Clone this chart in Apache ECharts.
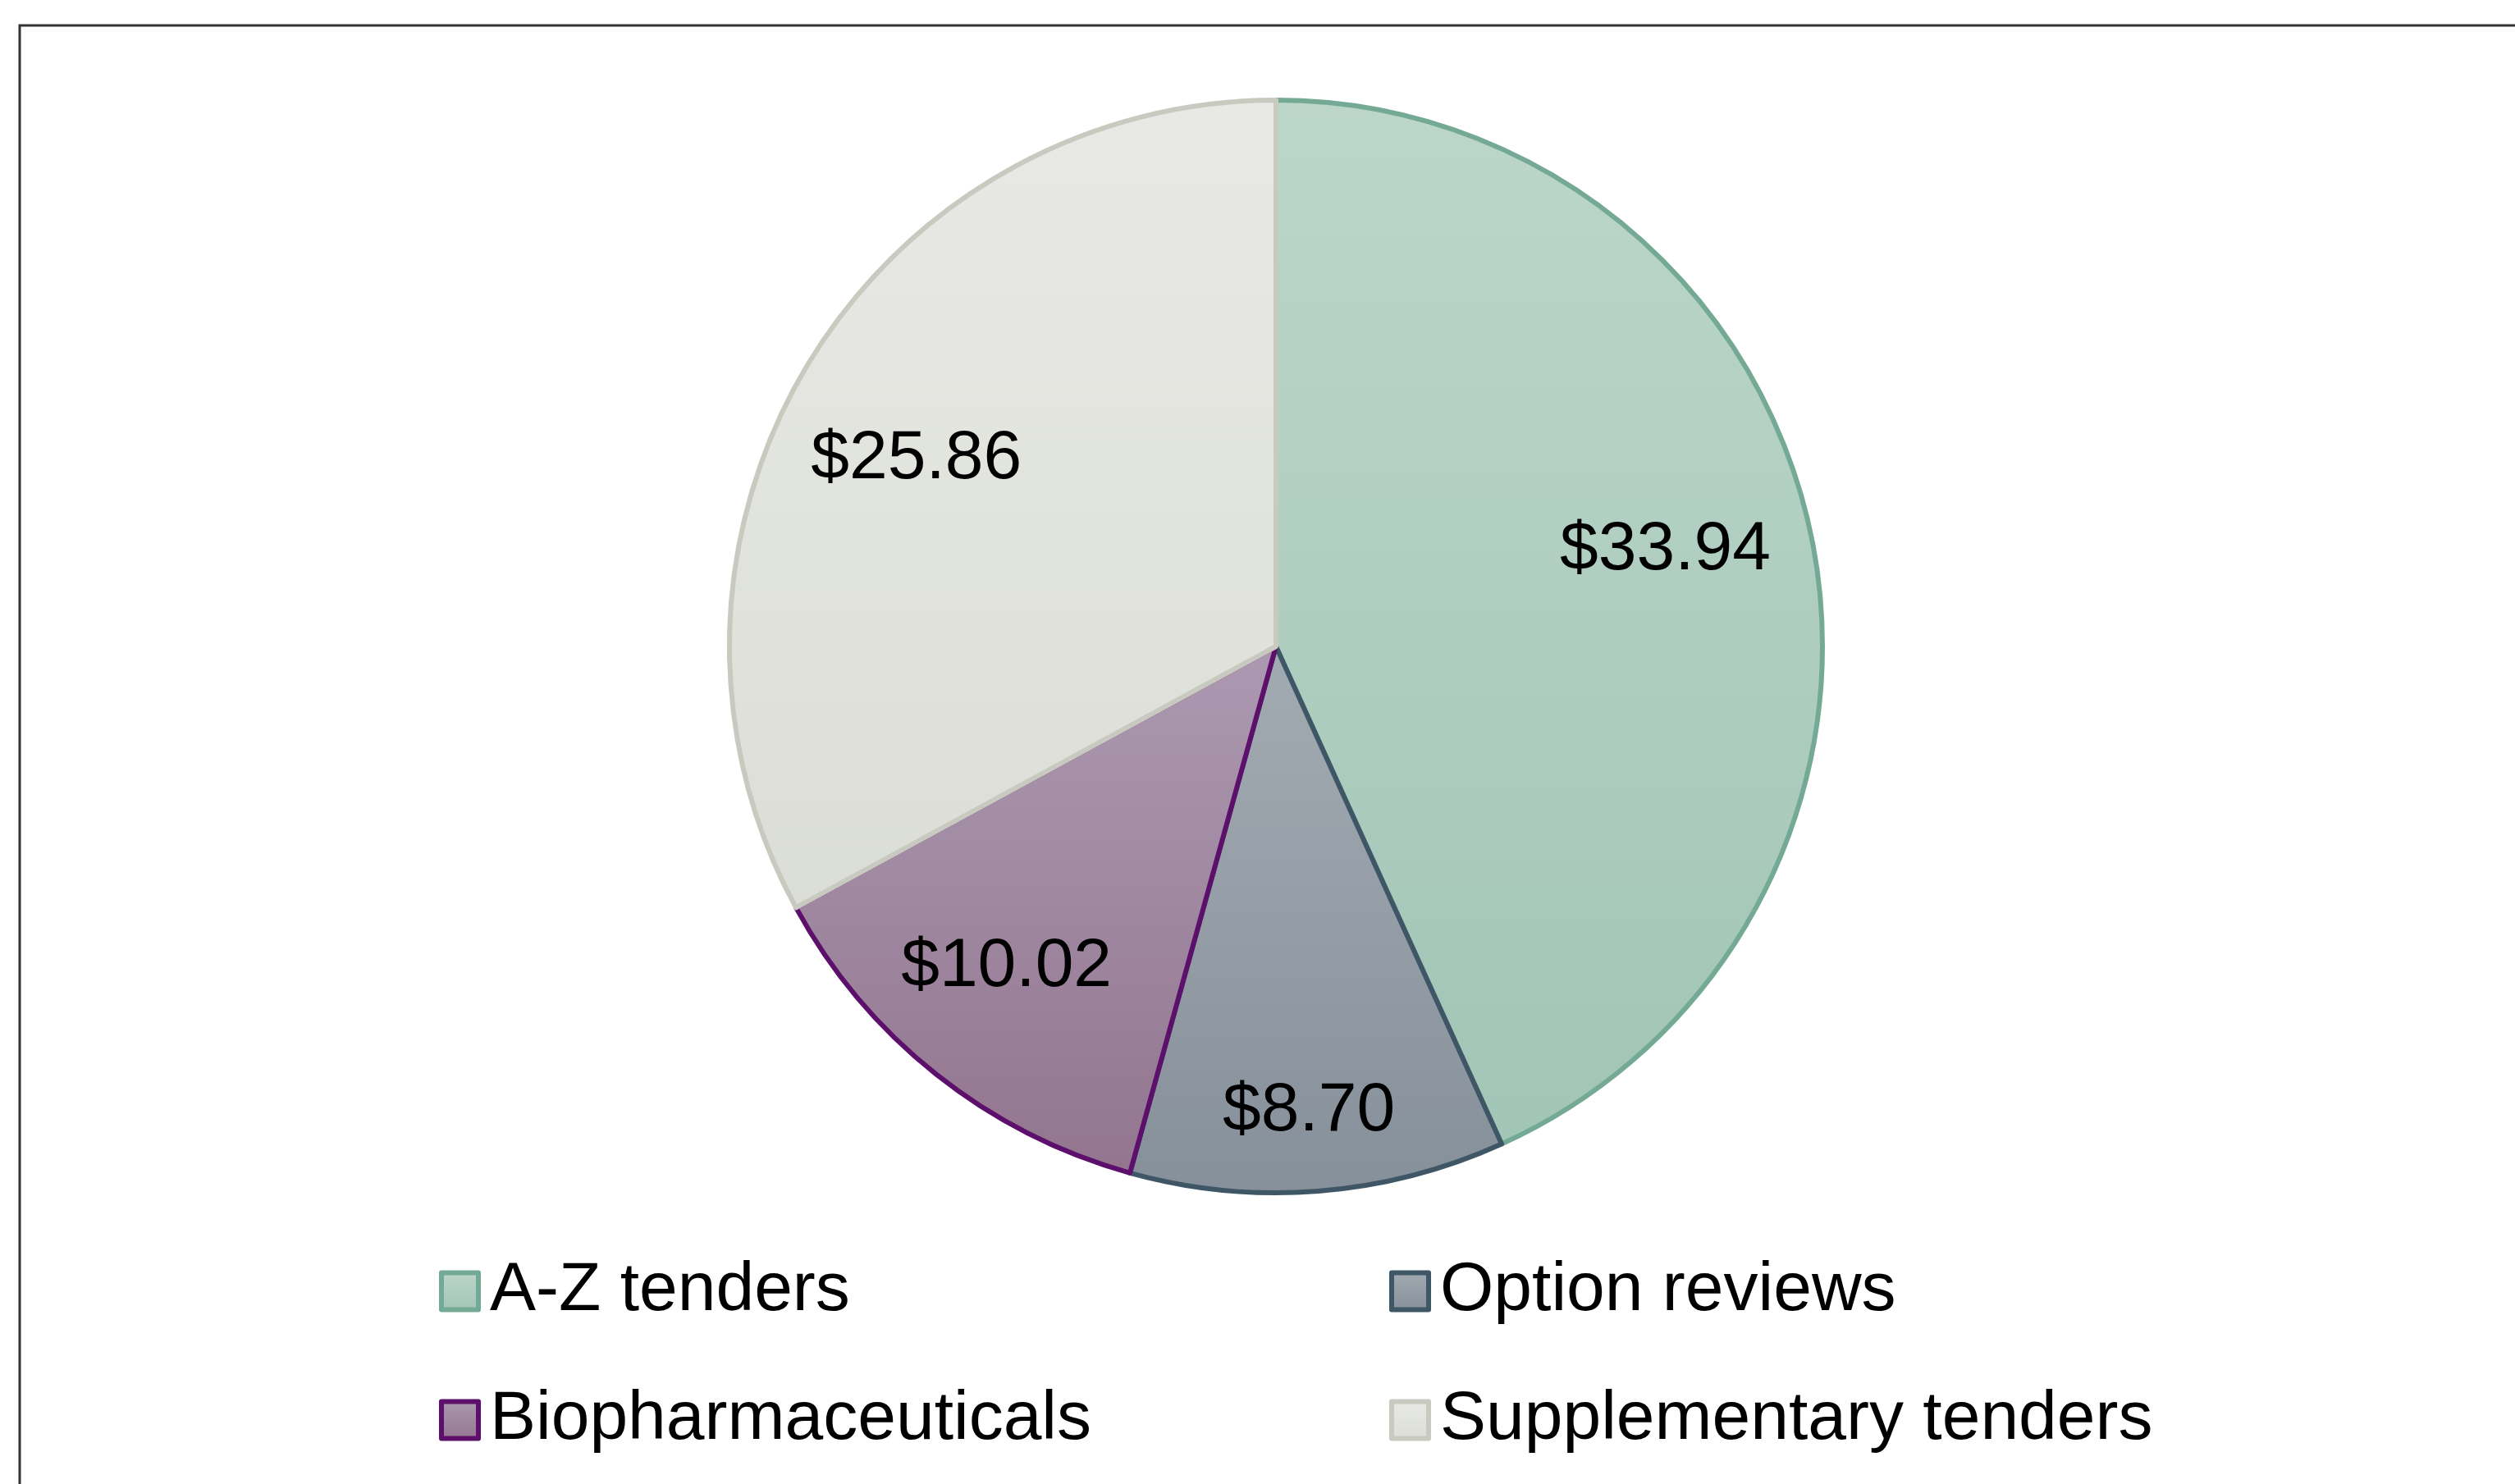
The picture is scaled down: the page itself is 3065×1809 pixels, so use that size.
<!DOCTYPE html>
<html>
<head>
<meta charset="utf-8">
<title>Tender savings</title>
<script src="https://cdn.jsdelivr.net/npm/echarts@6/dist/echarts.min.js"></script>
<style>
  html, body { margin: 0; padding: 0; background: #fff; }
  #chart { width: 3065px; height: 1809px; }
</style>
</head>
<body>
<div id="chart"></div>
<script>
// slices, clockwise from 12 o'clock
const categories = ['A-Z tenders', 'Option reviews', 'Biopharmaceuticals', 'Supplementary tenders']
const values = [33.94, 8.70, 10.02, 25.86]

// gradient top / bottom and outline of each slice
const fillTop = ['#bcd6ca', '#a3abb2', '#ac99b1', '#e8e9e5']
const fillBottom = ['#a1c5b6', '#86909a', '#93758f', '#dbded6']
const outline = ['#74aa95', '#3f5666', '#5d106b', '#c8cabf']
// where each value label sits: share of the radius, and a small turn (deg) off the mid ray
const labelReach = [0.734, 0.853, 0.766, 0.742]
const labelTurn = [-1.7, 0.4, 1.6, -3.2]

const cx = 1555
const cy = 788
const R = 666
const font = 'Liberation Sans, Arial, sans-serif'

// legend grid: two columns, two rows (A-Z / Option on top)
const legendCols = [535, 1693]
const legendRows = [1532, 1689]

const myChart = echarts.init(document.getElementById('chart'))

const pieData = categories.map((name, i) => ({
  name: name,
  value: values[i],
  itemStyle: {
    color: {
      type: 'linear',
      x: 0,
      y: 0,
      x2: 0,
      y2: 1,
      colorStops: [
        { offset: 0, color: fillTop[i] },
        { offset: 1, color: fillBottom[i] }
      ]
    },
    borderColor: outline[i]
  }
}))

// one legend box per entry so the columns line up like the original
const legends = categories.map((name, i) => ({
  data: [name],
  left: legendCols[i % 2],
  top: legendRows[Math.floor(i / 2)],
  orient: 'horizontal',
  icon: 'rect',
  padding: 0,
  itemWidth: 45,
  itemHeight: 45,
  selectedMode: false,
  itemStyle: { borderWidth: 6 },
  textStyle: {
    fontFamily: font,
    fontSize: 84,
    color: '#000',
    padding: [0, 0, 0, 9]
  }
}))

const option = {
  animation: false,
  backgroundColor: '#fff',
  graphic: [
    {
      type: 'rect',
      silent: true,
      shape: { x: 24, y: 31, width: 3200, height: 2000 },
      style: { fill: 'none', stroke: '#333', lineWidth: 3 }
    }
  ],
  legend: legends,
  series: [
    {
      type: 'pie',
      center: [cx, cy],
      radius: [0, R],
      startAngle: 90,
      clockwise: true,
      data: pieData,
      itemStyle: { borderWidth: 6 },
      emphasis: { disabled: true },
      label: {
        show: true,
        position: 'inside',
        fontFamily: font,
        fontSize: 84,
        color: '#000',
        formatter: p => '$' + p.value.toFixed(2)
      },
      labelLine: { show: false },
      labelLayout: function(params) {
        // move each label out along its ray from the centre (slightly turned)
        const r = params.labelRect
        const lx = r.x + r.width / 2
        const ly = r.y + r.height / 2
        const a = Math.atan2(ly - cy, lx - cx) + labelTurn[params.dataIndex] * Math.PI / 180
        const dist = labelReach[params.dataIndex] * R
        return { dx: cx + dist * Math.cos(a) - lx, dy: cy + dist * Math.sin(a) - ly }
      }
    }
  ]
}
option && myChart.setOption(option)
</script>
</body>
</html>
